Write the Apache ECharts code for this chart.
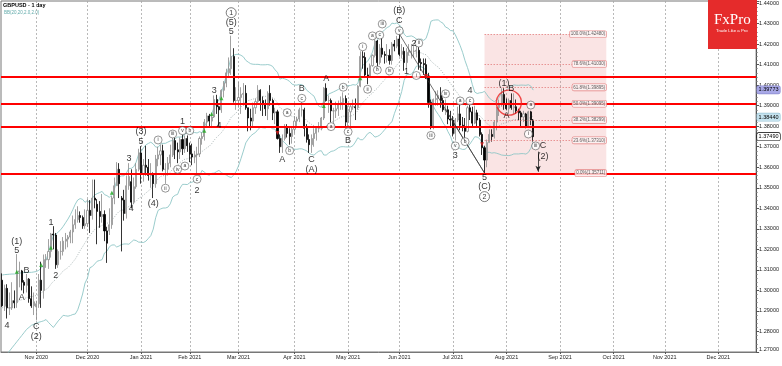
<!DOCTYPE html>
<html><head><meta charset="utf-8">
<script src="https://cdn.jsdelivr.net/npm/echarts@6/dist/echarts.min.js"></script>
<style>html,body{margin:0;padding:0;background:#fff}#c{width:782px;height:366px}</style>
</head><body><div id="c"></div>
<script>
// ---------- DATA ----------
const holidays = ['2020-12-25', '2021-01-01'];
const firstDay = '2020-10-13', lastDay = '2021-12-22';

// daily candles GBPUSD [open, high, low, close] starting 2020-10-13
const candles = [
[1.3050,1.3083,1.2920,1.2925],[1.2925,1.3028,1.2900,1.3010],[1.3010,1.3030,1.2863,1.2915],[1.2915,1.2990,1.2880,1.2915],
[1.2915,1.3040,1.2905,1.2950],[1.2950,1.3000,1.2913,1.2940],[1.2940,1.3177,1.2915,1.3090],[1.3090,1.3140,1.3015,1.3095],
[1.3095,1.3100,1.3000,1.3040],[1.3040,1.3050,1.2985,1.3025],[1.3025,1.3080,1.2990,1.3055],[1.3055,1.3060,1.2940,1.2960],
[1.2960,1.3020,1.2915,1.2925],[1.2925,1.2990,1.2880,1.2945],
[1.2920,1.2950,1.2854,1.2935],[1.2935,1.3080,1.2915,1.3050],[1.3050,1.3140,1.2915,1.3000],[1.3000,1.3175,1.2960,1.3150],
[1.3150,1.3177,1.3110,1.3150],[1.3150,1.3250,1.3105,1.3190],[1.3190,1.3280,1.3160,1.3275],[1.3275,1.3313,1.3200,1.3270],
[1.3270,1.3280,1.3105,1.3125],[1.3125,1.3200,1.3110,1.3190],[1.3190,1.3240,1.3150,1.3190],[1.3190,1.3260,1.3170,1.3240],
[1.3240,1.3280,1.3200,1.3250],[1.3250,1.3270,1.3210,1.3260],[1.3260,1.3295,1.3230,1.3285],[1.3285,1.3365,1.3230,1.3320],
[1.3320,1.3395,1.3300,1.3345],[1.3345,1.3410,1.3330,1.3365],[1.3365,1.3385,1.3330,1.3355],[1.3355,1.3365,1.3300,1.3315],
[1.3315,1.3395,1.3300,1.3325],
[1.3325,1.3445,1.3310,1.3390],[1.3390,1.3440,1.3280,1.3365],[1.3365,1.3540,1.3345,1.3450],[1.3450,1.3540,1.3400,1.3440],
[1.3420,1.3445,1.3225,1.3385],[1.3385,1.3435,1.3305,1.3360],[1.3360,1.3470,1.3330,1.3370],[1.3370,1.3390,1.3240,1.3290],
[1.3290,1.3310,1.3134,1.3230],[1.3290,1.3400,1.3270,1.3320],[1.3320,1.3460,1.3300,1.3450],[1.3450,1.3550,1.3420,1.3510],
[1.3510,1.3625,1.3510,1.3590],[1.3590,1.3620,1.3450,1.3520],[1.3450,1.3460,1.3190,1.3440],[1.3440,1.3490,1.3340,1.3375],
[1.3375,1.3560,1.3350,1.3510],[1.3510,1.3620,1.3490,1.3555],[1.3530,1.3590,1.3400,1.3430],[1.3430,1.3550,1.3420,1.3505],
[1.3505,1.3620,1.3495,1.3590],[1.3590,1.3690,1.3580,1.3670],
[1.3670,1.3703,1.3520,1.3570],[1.3570,1.3640,1.3530,1.3610],[1.3610,1.3705,1.3560,1.3600],[1.3600,1.3640,1.3535,1.3560],
[1.3560,1.3620,1.3500,1.3565],[1.3565,1.3575,1.3450,1.3520],[1.3520,1.3660,1.3500,1.3640],[1.3640,1.3700,1.3605,1.3660],
[1.3660,1.3710,1.3610,1.3680],[1.3680,1.3710,1.3580,1.3590],[1.3590,1.3620,1.3520,1.3590],[1.3590,1.3650,1.3560,1.3620],
[1.3620,1.3710,1.3600,1.3660],[1.3660,1.3745,1.3650,1.3730],[1.3730,1.3745,1.3640,1.3685],[1.3685,1.3720,1.3620,1.3675],
[1.3675,1.3745,1.3640,1.3735],[1.3735,1.3760,1.3660,1.3690],[1.3690,1.3755,1.3670,1.3740],[1.3740,1.3755,1.3675,1.3705],
[1.3705,1.3720,1.3625,1.3665],[1.3665,1.3715,1.3610,1.3650],[1.3650,1.3680,1.3620,1.3660],[1.3660,1.3700,1.3565,1.3665],
[1.3665,1.3750,1.3650,1.3740],[1.3740,1.3770,1.3710,1.3750],[1.3750,1.3835,1.3730,1.3820],[1.3820,1.3865,1.3800,1.3850],
[1.3850,1.3860,1.3800,1.3825],[1.3825,1.3865,1.3800,1.3845],[1.3845,1.3950,1.3840,1.3930],[1.3930,1.3953,1.3860,1.3895],
[1.3895,1.3900,1.3800,1.3880],[1.3880,1.3980,1.3865,1.3975],[1.3975,1.4020,1.3940,1.4010],[1.4010,1.4080,1.3990,1.4060],
[1.4060,1.4135,1.4035,1.4080],[1.4080,1.4241,1.4050,1.4140],[1.4140,1.4180,1.3915,1.3925],[1.3925,1.3990,1.3880,1.3925],
[1.3925,1.4015,1.3890,1.3940],[1.3940,1.3990,1.3860,1.3955],[1.3955,1.4010,1.3900,1.3960],[1.3960,1.4000,1.3880,1.3890],
[1.3890,1.3890,1.3775,1.3840],[1.3840,1.3885,1.3780,1.3825],[1.3825,1.3915,1.3800,1.3890],[1.3890,1.3935,1.3860,1.3920],
[1.3920,1.4000,1.3910,1.3975],[1.3975,1.3980,1.3875,1.3925],[1.3925,1.3945,1.3850,1.3905],[1.3905,1.3930,1.3850,1.3885],
[1.3885,1.3970,1.3830,1.3960],[1.3960,1.4000,1.3900,1.3925],[1.3925,1.3935,1.3830,1.3865],[1.3865,1.3890,1.3810,1.3870],
[1.3870,1.3880,1.3735,1.3740],[1.3740,1.3760,1.3670,1.3700],[1.3700,1.3760,1.3670,1.3740],[1.3740,1.3810,1.3730,1.3795],
[1.3795,1.3810,1.3745,1.3765],[1.3765,1.3790,1.3710,1.3750],[1.3750,1.3800,1.3715,1.3785],
[1.3785,1.3850,1.3765,1.3825],[1.3825,1.3845,1.3800,1.3835],[1.3835,1.3890,1.3820,1.3880],[1.3880,1.3920,1.3850,1.3880],
[1.3880,1.3890,1.3750,1.3790],[1.3790,1.3810,1.3720,1.3735],[1.3735,1.3760,1.3670,1.3710],[1.3710,1.3760,1.3670,1.3740],
[1.3740,1.3790,1.3700,1.3765],[1.3765,1.3800,1.3730,1.3790],[1.3790,1.3820,1.3770,1.3795],[1.3795,1.3845,1.3780,1.3840],
[1.3840,1.3990,1.3830,1.3985],[1.3985,1.4009,1.3920,1.3925],[1.3925,1.3950,1.3865,1.3925],[1.3925,1.3935,1.3820,1.3875],
[1.3875,1.3890,1.3800,1.3875],[1.3875,1.3920,1.3840,1.3885],[1.3885,1.3925,1.3850,1.3905],[1.3905,1.3945,1.3880,1.3915],
[1.3915,1.3965,1.3880,1.3935],[1.3935,1.3950,1.3800,1.3820],
[1.3820,1.3900,1.3800,1.3870],[1.3870,1.3905,1.3800,1.3895],[1.3895,1.3930,1.3880,1.3895],[1.3895,1.3935,1.3830,1.3890],
[1.3890,1.4000,1.3880,1.3995],[1.3995,1.4165,1.3990,1.4140],[1.4140,1.4165,1.4080,1.4135],[1.4135,1.4160,1.4040,1.4050],
[1.4050,1.4085,1.4005,1.4045],[1.4045,1.4105,1.4040,1.4095],[1.4095,1.4150,1.4090,1.4145],[1.4145,1.4235,1.4135,1.4215],
[1.4215,1.4220,1.4075,1.4110],[1.4110,1.4200,1.4100,1.4180],[1.4180,1.4230,1.4135,1.4150],[1.4150,1.4165,1.4105,1.4145],
[1.4145,1.4200,1.4110,1.4145],[1.4145,1.4175,1.4100,1.4120],[1.4120,1.4210,1.4100,1.4200],[1.4200,1.4220,1.4165,1.4190],
[1.4190,1.4240,1.4180,1.4225],
[1.4225,1.4250,1.4140,1.4150],[1.4150,1.4200,1.4130,1.4165],[1.4165,1.4185,1.4070,1.4110],[1.4110,1.4180,1.4080,1.4160],
[1.4160,1.4200,1.4145,1.4165],[1.4165,1.4200,1.4130,1.4165],[1.4165,1.4190,1.4135,1.4165],[1.4165,1.4200,1.4135,1.4170],
[1.4170,1.4185,1.4075,1.4110],[1.4110,1.4130,1.4070,1.4105],[1.4105,1.4130,1.4050,1.4100],[1.4100,1.4130,1.4030,1.4045],
[1.4045,1.4060,1.3890,1.3915],[1.3915,1.3930,1.3785,1.3800],[1.3800,1.3935,1.3785,1.3930],[1.3930,1.3970,1.3900,1.3935],
[1.3935,1.3975,1.3900,1.3950],[1.3950,1.3990,1.3890,1.3925],[1.3925,1.3940,1.3870,1.3880],[1.3880,1.3930,1.3855,1.3880],
[1.3880,1.3900,1.3810,1.3835],[1.3835,1.3875,1.3800,1.3830],
[1.3830,1.3850,1.3750,1.3765],[1.3765,1.3840,1.3730,1.3830],[1.3830,1.3895,1.3820,1.3860],[1.3860,1.3910,1.3780,1.3805],
[1.3805,1.3845,1.3775,1.3795],[1.3795,1.3840,1.3730,1.3775],[1.3775,1.3900,1.3770,1.3890],[1.3890,1.3910,1.3830,1.3870],
[1.3870,1.3895,1.3800,1.3815],[1.3815,1.3900,1.3810,1.3865],[1.3865,1.3880,1.3800,1.3830],[1.3830,1.3840,1.3750,1.3760],
[1.3760,1.3770,1.3660,1.3695],[1.3695,1.3705,1.3572,1.3635],[1.3635,1.3735,1.3600,1.3720],[1.3720,1.3785,1.3720,1.3760],
[1.3760,1.3785,1.3725,1.3750],[1.3750,1.3830,1.3740,1.3820],[1.3820,1.3895,1.3780,1.3890],[1.3890,1.3930,1.3850,1.3905],
[1.3905,1.3985,1.3895,1.3955],[1.3955,1.3985,1.3880,1.3905],
[1.3905,1.3935,1.3880,1.3885],[1.3885,1.3935,1.3860,1.3925],[1.3925,1.3960,1.3880,1.3890],[1.3890,1.3960,1.3860,1.3895],
[1.3895,1.3930,1.3860,1.3875],[1.3875,1.3885,1.3830,1.3865],[1.3865,1.3875,1.3800,1.3845],[1.3845,1.3875,1.3820,1.3860],
[1.3860,1.3865,1.3790,1.3800],[1.3800,1.3875,1.3795,1.3870],[1.3870,1.3875,1.3805,1.3830],[1.3830,1.3835,1.3725,1.3749]
];

// Bollinger band values read at the left edge (before 20 bars are available)
const bbUpperStart = [1.3075,1.3077,1.3078,1.3079,1.3080,1.3080,1.3082,1.3084,1.3086,1.3087,1.3088,1.3088,1.3088,1.3090,1.3092,1.3098,1.3108,1.3125,1.3150];
const bbMidStart   = [1.2915,1.2920,1.2925,1.2930,1.2935,1.2940,1.2945,1.2950,1.2955,1.2960,1.2965,1.2968,1.2970,1.2972,1.2975,1.2980,1.2988,1.2996,1.3005];
const bbLowerStart = [1.2660,1.2675,1.2690,1.2705,1.2720,1.2735,1.2750,1.2765,1.2780,1.2795,1.2810,1.2820,1.2830,1.2835,1.2840,1.2845,1.2848,1.2852,1.2858];

const supportLines = [1.4040, 1.3907, 1.3798, 1.3570];
const fibLevels = [[100.0,1.42480],[78.6,1.41030],[61.8,1.39895],[50.0,1.39095],[38.2,1.38299],[23.6,1.37310],[0.0,1.35711]];
const fibStart = '2021-07-20', fibEnd = '2021-09-28';
const priceTags = [[1.39773,'#a8a8e6','#8a8ad0'],[1.38440,'#c4e2ee','#9cc6d8'],[1.37490,'#ffffff','#000000']];

const waveLabels = [
['2020-10-21',1.3238,'(1)'],['2020-10-21',1.3194,'5'],['2020-10-27',1.3096,'B'],['2020-10-23',1.2965,'A'],
['2020-10-15',1.2828,'4'],['2020-11-02',1.2824,'C'],['2020-11-02',1.2775,'(2)'],['2020-11-10',1.3332,'1'],
['2020-11-12',1.3075,'2'],['2020-12-24',1.3644,'3'],['2020-12-28',1.3400,'4'],['2021-01-04',1.3773,'(3)'],
['2021-01-04',1.3725,'5'],['2021-01-11',1.3421,'(4)'],['2021-01-27',1.3822,'1'],['2021-02-04',1.3489,'2'],
['2021-02-15',1.3973,'3'],['2021-02-17',1.3801,'4'],['2021-02-24',1.4304,'(5)'],['2021-02-24',1.4260,'5'],
['2021-03-25',1.3639,'A'],['2021-04-06',1.3985,'B'],['2021-04-12',1.3640,'C'],['2021-04-12',1.3590,'(A)'],
['2021-04-20',1.4030,'A'],['2021-05-03',1.3730,'B'],['2021-06-01',1.4363,'(B)'],['2021-06-01',1.4314,'C'],
['2021-06-04',1.4066,'1'],['2021-06-09',1.4205,'2'],['2021-07-02',1.3655,'3'],['2021-07-12',1.3973,'4'],
['2021-07-20',1.3549,'5'],['2021-07-20',1.3506,'(C)'],['2021-07-30',1.4009,'(1)'],['2021-08-04',1.3985,'B'],
['2021-08-02',1.3850,'A'],['2021-08-23',1.3704,'C'],['2021-08-23',1.3652,'(2)']
];
const circleLabels = [
['2021-01-13',1.3733,'i'],['2021-01-18',1.3498,'ii'],['2021-01-21',1.3762,'iii'],['2021-01-25',1.3590,'iv'],
['2021-01-27',1.3778,'v'],['2021-01-28',1.3606,'a'],['2021-02-01',1.3778,'b'],['2021-02-04',1.3542,'c'],
['2021-03-29',1.3866,'a'],['2021-03-30',1.3681,'b'],['2021-04-06',1.3936,'c'],['2021-04-22',1.3798,'a'],
['2021-04-29',1.3990,'b'],['2021-05-03',1.3773,'c'],['2021-05-11',1.4187,'i'],['2021-05-13',1.3980,'ii'],
['2021-05-17',1.4240,'a'],['2021-05-20',1.4244,'c'],['2021-05-21',1.4298,'iii'],['2021-05-19',1.4074,'b'],
['2021-05-26',1.4069,'iv'],['2021-06-01',1.4265,'v'],['2021-06-10',1.4047,'i'],['2021-06-11',1.4205,'ii'],
['2021-06-18',1.3755,'iii'],['2021-06-28',1.3958,'iv'],['2021-07-02',1.3704,'v'],['2021-07-06',1.3923,'a'],
['2021-07-08',1.3725,'b'],['2021-07-12',1.3923,'c'],['2021-08-16',1.3903,'a'],['2021-08-13',1.3762,'i'],
['2021-08-18',1.3704,'iii']
];
const bigCircleLabels = [['2021-02-24',1.4353,'1'],['2021-07-20',1.3457,'2']];
const buyMarks = [['2020-10-21',1.3091],['2020-11-04',1.3124],['2020-11-10',1.3208],['2020-12-15',1.3476],
['2021-02-09',1.3778],['2021-02-12',1.3859],['2021-02-18',1.3936],['2021-04-19',1.3899],['2021-05-10',1.4034]];
const sellMarks = [['2021-03-23',1.3767],['2021-06-16',1.4045],['2021-07-19',1.3712]];
const focusCircle = [['2021-08-03',1.3915]];
const trendLines = [[['2021-06-01',1.4250],['2021-07-20',1.3572]],[['2021-06-28',1.3880],['2021-07-20',1.3572]]];
const targetArrow = [['2021-08-19',1.3676],['2021-08-19',1.3578]];

// ---------- BUILD ----------
const categories = [];
(function(){
  const d = new Date(firstDay + 'T00:00:00Z'), end = new Date(lastDay + 'T00:00:00Z');
  while (d <= end) {
    const wd = d.getUTCDay(), s = d.toISOString().slice(0,10);
    if (wd !== 0 && wd !== 6 && holidays.indexOf(s) < 0) categories.push(s);
    d.setUTCDate(d.getUTCDate() + 1);
  }
})();
const months = ['Jan','Feb','Mar','Apr','May','Jun','Jul','Aug','Sep','Oct','Nov','Dec'];
const isMonthStart = i => i > 0 && categories[i].slice(5,7) !== categories[i-1].slice(5,7);

const candleData = candles.map(r => [r[0], r[3], r[2], r[1]]);
const closes = candles.map(r => r[3]);
const bbU = [], bbM = [], bbL = [];
for (let i = 0; i < closes.length; i++) {
  const d = categories[i];
  if (i < bbUpperStart.length) { bbU.push([d,bbUpperStart[i]]); bbM.push([d,bbMidStart[i]]); bbL.push([d,bbLowerStart[i]]); continue; }
  const w = closes.slice(i-19, i+1);
  const m = w.reduce((a,b)=>a+b,0)/20;
  const sd = Math.sqrt(w.reduce((a,b)=>a+(b-m)*(b-m),0)/20);
  bbU.push([d,m+2*sd]); bbM.push([d,m]); bbL.push([d,m-2*sd]);
}

const FONT = 'Arial, "Liberation Sans", sans-serif';
const chart = echarts.init(document.getElementById('c'));
chart.setOption({
  animation: false,
  backgroundColor: '#fff',
  grid: { left: 1, right: 25, top: 1, bottom: 14, show: true, borderColor: '#777', borderWidth: 1 },
  xAxis: {
    type: 'category', data: categories, boundaryGap: true,
    axisLine: { lineStyle: { color: '#777' } },
    axisTick: { show: true, alignWithLabel: true, interval: isMonthStart, length: 2, lineStyle: { color: '#555' } },
    axisLabel: { interval: isMonthStart, fontSize: 5.5, color: '#222', margin: 2, fontFamily: FONT,
      formatter: v => months[+v.slice(5,7)-1] + ' ' + v.slice(0,4) },
    splitLine: { show: true, interval: isMonthStart, alignWithLabel: true, lineStyle: { color: '#a8a8a8', type: [2,2], width: 0.8 } }
  },
  yAxis: {
    type: 'value', position: 'right', min: 1.27, max: 1.441, interval: 0.01, scale: true,
    axisLine: { show: true, lineStyle: { color: '#555' } },
    axisTick: { show: true, length: 3, lineStyle: { color: '#555' } },
    minorTick: { show: true, splitNumber: 5, length: 1.5, lineStyle: { color: '#777' } },
    splitLine: { show: false },
    axisLabel: { fontSize: 5.5, color: '#222', margin: 3, fontFamily: FONT, verticalAlignMinLabel: 'bottom',
      formatter: v => Math.abs(v*100 - Math.round(v*100)) < 1e-6 ? v.toFixed(5) : '' }
  },
  series: [
    { type: 'line', data: [], z: 1, silent: true,
      markArea: { silent: true, itemStyle: { color: 'rgba(232,130,130,0.22)' },
        data: [[{ xAxis: fibStart, yAxis: fibLevels[0][1] }, { xAxis: fibEnd, yAxis: fibLevels[fibLevels.length-1][1] }]] },
      markLine: { silent: true, symbol: 'none', precision: 6, label: { show: false },
        lineStyle: { color: '#e07070', type: [1.5,1.5], width: 0.7 },
        data: fibLevels.map(f => [{ coord: [fibStart, f[1]] }, { coord: [fibEnd, f[1]] }]) } },
    { type: 'line', data: bbU, symbol: 'none', z: 2, lineStyle: { color: '#8fc6c6', width: 0.9 } },
    { type: 'line', data: bbL, symbol: 'none', z: 2, lineStyle: { color: '#8fc6c6', width: 0.9 } },
    { type: 'line', data: bbM, symbol: 'none', z: 2, lineStyle: { color: '#889999', width: 0.7, type: [1,1.5] } },
    { type: 'candlestick', data: candleData, z: 3, barWidth: 1.6,
      itemStyle: { color: '#ffffff', color0: '#000000', borderColor: '#8a8a8a', borderColor0: '#000000', borderWidth: 0.8 } },
    { type: 'line', data: [], z: 5, silent: true,
      markLine: { silent: true, symbol: 'none', precision: 6,
        data: supportLines.map(v => ({ yAxis: v, label: { show: false }, lineStyle: { color: '#ff0000', width: 1.8, type: 'solid' } }))
          .concat(trendLines.map(t => [{ coord: t[0], lineStyle: { color: '#333', width: 0.7, type: 'solid' }, label: { show: false } }, { coord: t[1] }]))
          .concat([[{ coord: targetArrow[0], symbol: 'none', lineStyle: { color: '#222', width: 0.8, type: 'solid' }, label: { show: false } }, { coord: targetArrow[1], symbol: 'arrow', symbolSize: [4,6] }]])
      } },
    { type: 'line', data: [], z: 9, silent: true,
      markLine: { silent: true, symbol: 'none', precision: 6,
        data: priceTags.map(p => ({ yAxis: p[0], lineStyle: { color: 'rgba(0,0,0,0)', width: 0 },
            label: { show: true, position: 'end', distance: 1, formatter: p[0].toFixed(5), fontSize: 5.5, fontFamily: FONT, color: '#000',
              backgroundColor: p[1], borderColor: p[2], borderWidth: 0.6, padding: [1,1.5,0.5,1.5], borderRadius: 1.5 } }))
      } },
    { type: 'scatter', z: 6, silent: true, symbolSize: 0,
      data: fibLevels.map(f => ({ value: [fibEnd, f[1]], name: f[0].toFixed(1) + '%(' + f[1].toFixed(5) + ')' })),
      label: { show: true, position: 'left', distance: 0, formatter: '{b}', fontSize: 4.5, fontFamily: FONT, color: '#333',
        backgroundColor: '#fdf4f4', borderColor: '#e07070', borderWidth: 0.6, padding: [1,1,0.5,1], borderRadius: 1.5 } },
    { type: 'scatter', z: 7, silent: true, symbol: 'circle', symbolSize: 25,
      itemStyle: { color: 'rgba(0,0,0,0)', borderColor: '#ee2222', borderWidth: 1.4 }, data: focusCircle },
    { type: 'scatter', z: 7, silent: true, symbol: 'triangle', symbolSize: 4, itemStyle: { color: '#22aa22' }, data: buyMarks },
    { type: 'scatter', z: 7, silent: true, symbol: 'triangle', symbolRotate: 180, symbolSize: 4, itemStyle: { color: '#dd2222' }, data: sellMarks },
    { type: 'scatter', z: 8, silent: true, symbolSize: 0,
      data: waveLabels.map(a => ({ value: [a[0], a[1]], name: a[2] })),
      label: { show: true, position: 'inside', formatter: '{b}', fontSize: 9, color: '#000', fontFamily: FONT } },
    { type: 'scatter', z: 8, silent: true, symbol: 'circle', symbolSize: 8,
      itemStyle: { color: '#ffffff', borderColor: '#444', borderWidth: 0.7 },
      data: circleLabels.map(a => ({ value: [a[0], a[1]], name: a[2] })),
      label: { show: true, position: 'inside', formatter: '{b}', fontSize: 5, color: '#000', fontFamily: FONT } },
    { type: 'scatter', z: 8, silent: true, symbol: 'circle', symbolSize: 10,
      itemStyle: { color: '#ffffff', borderColor: '#333', borderWidth: 0.8 },
      data: bigCircleLabels.map(a => ({ value: [a[0], a[1]], name: a[2] })),
      label: { show: true, position: 'inside', formatter: '{b}', fontSize: 7, color: '#000', fontFamily: FONT } }
  ],
  graphic: [
    { type: 'text', left: 3, top: 2, style: { text: 'GBPUSD - 1 day', font: 'bold 5.5px ' + FONT, fill: '#000' } },
    { type: 'text', left: 4, top: 10, style: { text: 'BB(20,20,2.0,2.0)', font: '4.5px ' + FONT, fill: '#5fa9a9' } },
    { type: 'rect', left: 708, top: 0, shape: { width: 49, height: 49 }, style: { fill: '#e52b2b' }, z: 20 },
    { type: 'text', left: 714, top: 13, z: 21, style: { text: 'FxPro', font: '15px "Liberation Serif", "DejaVu Serif", serif', fill: '#fff' } },
    { type: 'text', left: 716, top: 29, z: 21, style: { text: 'Trade Like a Pro', font: '4.3px ' + FONT, fill: '#fff' } }
  ]
});
</script>
</body></html>
